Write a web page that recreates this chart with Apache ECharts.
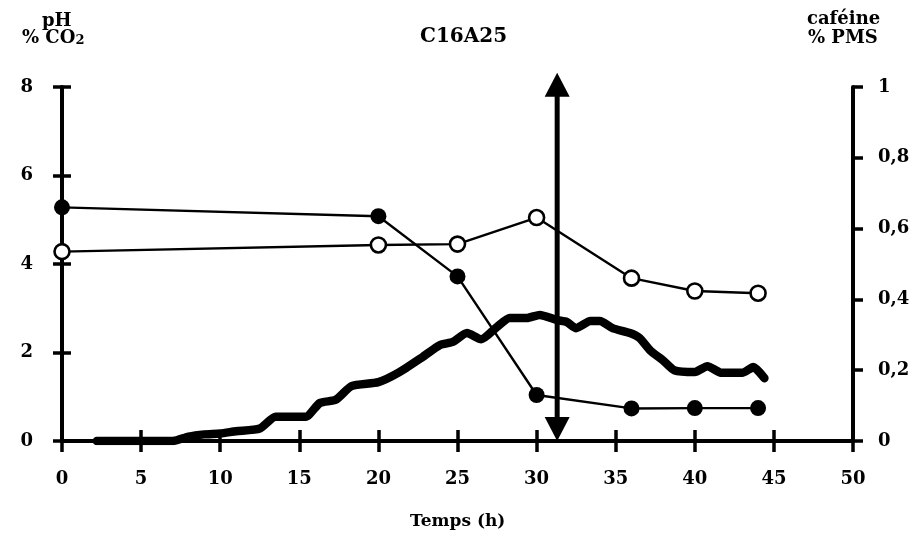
<!DOCTYPE html>
<html>
<head>
<meta charset="utf-8">
<script src="https://cdn.jsdelivr.net/npm/echarts@6/dist/echarts.min.js"></script>
<style>
  html, body { margin: 0; padding: 0; background: #fff; }
  #chart { width: 921px; height: 542px; }
</style>
</head>
<body>
<div id="chart"></div>
<script>
// Fermentation run C16A25: pH, CO2 and caffeine over time
const phTime = [0, 20, 25, 30, 36, 40, 44];
const phValues = [4.28, 4.43, 4.45, 5.05, 3.68, 3.39, 3.34];

const cafTime = [0, 20, 25, 30, 36, 40, 44];
const cafValues = [0.66, 0.635, 0.465, 0.13, 0.092, 0.093, 0.093];

const co2Time = [2.2, 7, 8, 9, 10, 11, 12.5, 13.5, 15.4, 16.3, 17.3, 18.3, 20, 21.3, 22.8, 23.9, 24.7,
  25.6, 26.5, 27.5, 28.3, 29.4, 30.2, 31.3, 31.9, 32.5, 33.4, 34, 34.8, 35.9, 36.5, 37.2, 38, 38.7,
  40, 40.8, 41.7, 43, 43.7, 44.4];
const co2Values = [0, 0, 0.1, 0.15, 0.17, 0.22, 0.28, 0.55, 0.55, 0.86, 0.93, 1.24, 1.33, 1.55, 1.9, 2.17, 2.24,
  2.44, 2.3, 2.58, 2.78, 2.78, 2.85, 2.73, 2.69, 2.55, 2.71, 2.71, 2.55, 2.44, 2.33, 2.04, 1.82, 1.6,
  1.56, 1.69, 1.54, 1.54, 1.67, 1.42];

// Event marker (double-headed arrow)
const eventTime = 31.3;
const eventTop = 8.32;

const leftTicks = [0, 2, 4, 6, 8];
const rightTicks = [0, 0.2, 0.4, 0.6, 0.8, 1];
const timeTicks = [0, 5, 10, 15, 20, 25, 30, 35, 40, 45, 50];

const FONT = '"DejaVu Serif", serif';
const ink = '#000';

const zip = (a, b) => a.map((v, i) => [v, b[i]]);

const gridRect = { left: 62, right: 68, top: 87, bottom: 101 };

const chart = echarts.init(document.getElementById('chart'), null, { renderer: 'canvas' });

const labelStyle = { color: ink, fontFamily: FONT, fontWeight: 'bold', fontSize: 18 };

chart.setOption({
  animation: false,
  backgroundColor: '#fff',
  grid: [
    Object.assign({ containLabel: false }, gridRect),
    Object.assign({ containLabel: false }, gridRect)
  ],
  xAxis: [
    {
      type: 'value', gridIndex: 0, min: timeTicks[0], max: timeTicks[timeTicks.length - 1], interval: 5,
      axisLine: { show: true, lineStyle: { color: ink, width: 4 } },
      axisTick: { show: true, inside: false, length: 11, lineStyle: { color: ink, width: 3.5 } },
      axisLabel: Object.assign({ margin: 29 }, labelStyle),
      splitLine: { show: false }
    },
    {
      // inner half of the crossing ticks
      type: 'value', gridIndex: 1, min: timeTicks[0], max: timeTicks[timeTicks.length - 1], interval: 5,
      axisLine: { show: false },
      axisTick: { show: true, inside: true, length: 11, lineStyle: { color: ink, width: 3.5 } },
      axisLabel: { show: false },
      splitLine: { show: false }
    }
  ],
  yAxis: [
    {
      type: 'value', gridIndex: 0, position: 'left', min: 0, max: leftTicks[leftTicks.length - 1], interval: 2,
      axisLine: { show: true, lineStyle: { color: ink, width: 4 } },
      axisTick: { show: true, inside: false, length: 9, lineStyle: { color: ink, width: 3.5 } },
      axisLabel: Object.assign({ margin: 29 }, labelStyle),
      splitLine: { show: false }
    },
    {
      type: 'value', gridIndex: 0, position: 'right', min: 0, max: rightTicks[rightTicks.length - 1], interval: 0.2,
      axisLine: { show: true, lineStyle: { color: ink, width: 4 } },
      axisTick: { show: true, inside: false, length: 10, lineStyle: { color: ink, width: 3.5 } },
      axisLabel: Object.assign({
        margin: 25,
        formatter: v => (Math.round(v * 10) / 10).toString().replace('.', ',')
      }, labelStyle),
      splitLine: { show: false }
    },
    {
      type: 'value', gridIndex: 1, position: 'left', min: 0, max: leftTicks[leftTicks.length - 1], interval: 2,
      axisLine: { show: false },
      axisTick: { show: true, inside: true, length: 9, lineStyle: { color: ink, width: 3.5 } },
      axisLabel: { show: false },
      splitLine: { show: false }
    }
  ],
  series: [
    {
      name: 'CO2', type: 'line', xAxisIndex: 0, yAxisIndex: 0,
      data: zip(co2Time, co2Values),
      showSymbol: false, symbol: 'none', smooth: 0.2,
      lineStyle: { color: ink, width: 8.5, cap: 'round', join: 'round' },
      z: 3
    },
    {
      name: 'pH', type: 'line', xAxisIndex: 0, yAxisIndex: 0,
      data: zip(phTime, phValues),
      symbol: 'circle', symbolSize: 15,
      lineStyle: { color: ink, width: 2.4 },
      itemStyle: { color: '#fff', borderColor: ink, borderWidth: 2.6 },
      z: 4
    },
    {
      name: 'caféine', type: 'line', xAxisIndex: 0, yAxisIndex: 1,
      data: zip(cafTime, cafValues),
      symbol: 'circle', symbolSize: 16,
      lineStyle: { color: ink, width: 2.4 },
      itemStyle: { color: ink },
      z: 4
    },
    {
      name: 'event', type: 'custom', xAxisIndex: 0, yAxisIndex: 0,
      clip: false, z: 5,
      data: [[eventTime, eventTop, 0]],
      renderItem: function (params, api) {
        const top = api.coord([api.value(0), api.value(1)]);
        const bot = api.coord([api.value(0), api.value(2)]);
        const hw = 12.5, hh = 24;
        return {
          type: 'group',
          children: [
            { type: 'line', shape: { x1: top[0], y1: top[1] + hh - 2, x2: bot[0], y2: bot[1] - hh + 2 },
              style: { stroke: ink, lineWidth: 5 } },
            { type: 'polygon', shape: { points: [[top[0], top[1]], [top[0] - hw, top[1] + hh], [top[0] + hw, top[1] + hh]] },
              style: { fill: ink } },
            { type: 'polygon', shape: { points: [[bot[0], bot[1]], [bot[0] - hw, bot[1] - hh], [bot[0] + hw, bot[1] - hh]] },
              style: { fill: ink } }
          ]
        };
      }
    }
  ],
  graphic: [
    { type: 'text', left: 42, top: 12, style: { text: 'pH', fill: ink, font: 'bold 18px ' + FONT } },
    { type: 'text', left: 22, top: 29, style: {
        text: '% CO{sub|2}', fill: ink, font: 'bold 18px ' + FONT,
        rich: { sub: { fontFamily: FONT, fontWeight: 'bold', fontSize: 13, padding: [6, 0, 0, 0], fill: ink } }
      } },
    { type: 'text', left: 420, top: 27, style: { text: 'C16A25', fill: ink, font: 'bold 20px ' + FONT } },
    { type: 'text', left: 807, top: 10, style: { text: 'caféine', fill: ink, font: 'bold 18px ' + FONT } },
    { type: 'text', left: 808, top: 29, style: { text: '% PMS', fill: ink, font: 'bold 18px ' + FONT } },
    { type: 'text', left: 410, top: 513, style: { text: 'Temps (h)', fill: ink, font: 'bold 17px ' + FONT } }
  ]
});
</script>
</body>
</html>
